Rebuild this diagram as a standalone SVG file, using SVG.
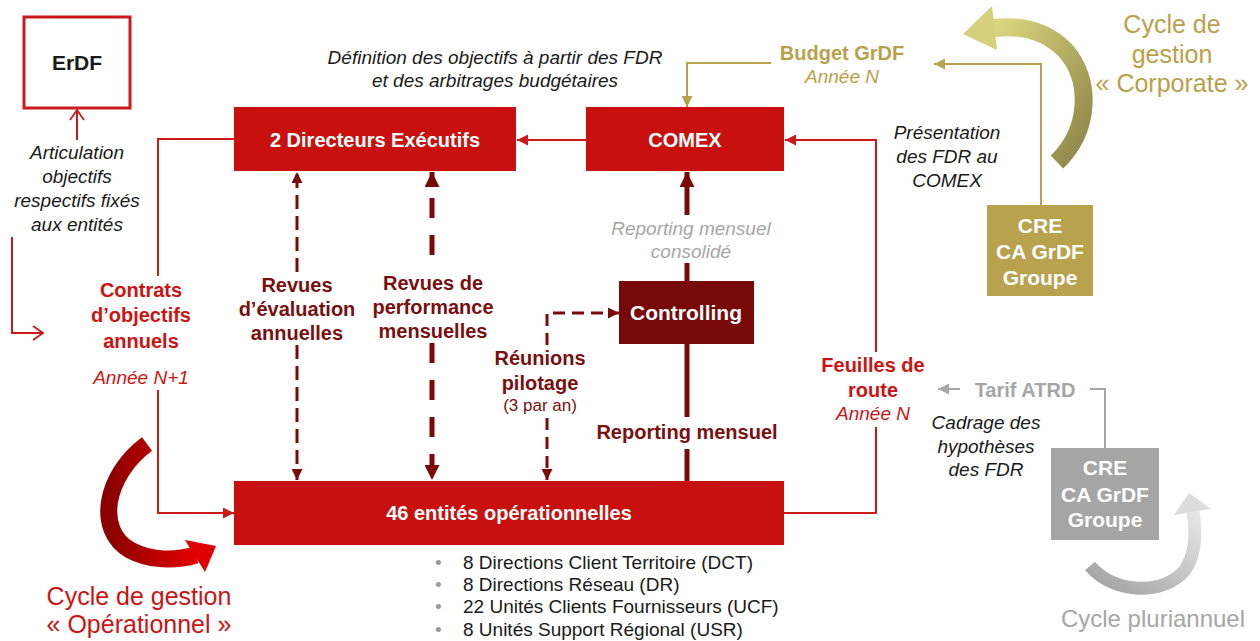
<svg xmlns="http://www.w3.org/2000/svg" width="1260" height="641" viewBox="0 0 1260 641">
<style>
text{font-family:"Liberation Sans",Arial,sans-serif;text-anchor:middle}
.b{font-weight:bold}
.i{font-style:italic}
.w{fill:#ffffff}
.k{fill:#1a1a1a}
.r{fill:#cc1414}
.dr{fill:#7a0f0f}
.au{fill:#b9a14c}
.gy{fill:#a6a6a6}
.f20{font-size:20px}
.f19{font-size:19px}
.f25{font-size:25px}
.ln{fill:none;stroke-width:2}
.red{stroke:#cc1a1a}
.gold{stroke:#b9a24e}
.grey{stroke:#a8a8a8}
.dk{stroke:#7a0a0a;fill:none}
</style>
<defs>
<marker id="mRed" viewBox="0 0 10 10" refX="10" refY="5" markerWidth="11" markerHeight="11" markerUnits="userSpaceOnUse" orient="auto"><path d="M0,0 L10,5 L0,10 z" fill="#cc1a1a"/></marker>
<marker id="mRedOpen" viewBox="0 0 12 16" refX="11" refY="8" markerWidth="12" markerHeight="16" markerUnits="userSpaceOnUse" orient="auto"><path d="M1,1 L11,8 L1,15" fill="none" stroke="#cc1a1a" stroke-width="1.8"/></marker>
<marker id="mGold" viewBox="0 0 10 10" refX="10" refY="5" markerWidth="11" markerHeight="11" markerUnits="userSpaceOnUse" orient="auto"><path d="M0,0 L10,5 L0,10 z" fill="#b9a24e"/></marker>
<marker id="mGrey" viewBox="0 0 10 10" refX="10" refY="5" markerWidth="11" markerHeight="11" markerUnits="userSpaceOnUse" orient="auto"><path d="M0,0 L10,5 L0,10 z" fill="#a8a8a8"/></marker>
<marker id="mDkS" viewBox="0 0 10 10" refX="10" refY="5" markerWidth="11" markerHeight="11" markerUnits="userSpaceOnUse" orient="auto"><path d="M0,0 L10,5 L0,10 z" fill="#7a0a0a"/></marker>
<marker id="mDkB" viewBox="0 0 10 10" refX="10" refY="5" markerWidth="15" markerHeight="15" markerUnits="userSpaceOnUse" orient="auto"><path d="M0,0 L10,5 L0,10 z" fill="#7a0a0a"/></marker>
<linearGradient id="gRed" x1="0" y1="0" x2="1" y2="0"><stop offset="0" stop-color="#8a0000"/><stop offset="1" stop-color="#e30000"/></linearGradient>
<linearGradient id="gGold" x1="0" y1="0" x2="1" y2="1"><stop offset="0" stop-color="#dcd680"/><stop offset="1" stop-color="#8c8447"/></linearGradient>
<linearGradient id="gGrey" x1="0" y1="1" x2="1" y2="0"><stop offset="0" stop-color="#a0a0a0"/><stop offset="1" stop-color="#e6e6e6"/></linearGradient>
</defs>

<!-- cycle arrows -->
<g id="cycle-operationnel">
<path d="M147,444 C105,475 95,530 130,550 C150,561 175,561 196,555" fill="none" stroke="url(#gRed)" stroke-width="17"/>
<polygon points="185,540 216,546 205,572" fill="#e00000"/>
<text class="r f25" x="139" y="605">Cycle de gestion</text>
<text class="r f25" x="139" y="633">« Opérationnel »</text>
</g>
<g id="cycle-corporate">
<path d="M1057,162 C1090,130 1092,80 1065,50 C1045,30 1020,25 994,28" fill="none" stroke="url(#gGold)" stroke-width="18"/>
<polygon points="963,34 992,6 997,50" fill="#d6d07c"/>
<text class="au f25" x="1172" y="33">Cycle de</text>
<text class="au f25" x="1172" y="63">gestion</text>
<text class="au f25" x="1172" y="92">« Corporate »</text>
</g>
<g id="cycle-pluriannuel">
<path d="M1090,566 C1115,595 1165,595 1185,570 C1197,552 1196,530 1193,512" fill="none" stroke="url(#gGrey)" stroke-width="13"/>
<polygon points="1189,493 1174,515 1211,509" fill="#dcdcdc"/>
<text class="gy" style="font-size:24px" x="1153" y="627">Cycle pluriannuel</text>
</g>

<!-- connectors -->
<g id="connectors">
<path class="ln red" d="M77,140 V110" marker-end="url(#mRedOpen)"/>
<path class="ln red" d="M12,237 V333 H43" marker-end="url(#mRedOpen)"/>
<path class="ln red" d="M235,139 H158 V276"/>
<path class="ln red" d="M158,390 V513 H234" marker-end="url(#mRed)"/>
<path class="ln red" d="M586,140 H517" marker-end="url(#mRed)"/>
<path class="ln red" d="M876,352 V140 H785" marker-end="url(#mRed)"/>
<path class="ln red" d="M876,427 V513 H784"/>
<path class="ln gold" d="M771,63 H687 V107" marker-end="url(#mGold)"/>
<path class="ln gold" d="M1041,205 V64 H934" marker-end="url(#mGold)"/>
<path class="ln grey" d="M960,389 H938" marker-end="url(#mGrey)"/>
<path class="ln grey" d="M1090,389 H1105 V448"/>
<path class="dk" stroke-width="3" stroke-dasharray="14 7" d="M297,272 V172" marker-end="url(#mDkS)"/>
<path class="dk" stroke-width="3" stroke-dasharray="14 7" d="M297,345 V480" marker-end="url(#mDkS)"/>
<path class="dk" stroke-width="5" stroke-dasharray="20 17" d="M432,255 V172" marker-end="url(#mDkB)"/>
<path class="dk" stroke-width="5" stroke-dasharray="20 17" d="M432,343 V480" marker-end="url(#mDkB)"/>
<path class="dk" stroke-width="3" stroke-dasharray="12 7" d="M547,345 V313 H619" marker-end="url(#mDkS)"/>
<path class="dk" stroke-width="3" stroke-dasharray="12 7" d="M547,418 V480" marker-end="url(#mDkS)"/>
<path class="dk" stroke-width="5" d="M687,215 V172" marker-end="url(#mDkB)"/>
<path class="dk" stroke-width="5" d="M687,263 V281"/>
<path class="dk" stroke-width="5" d="M687,344 V417"/>
<path class="dk" stroke-width="5" d="M687,449 V481"/>
</g>

<!-- nodes -->
<g id="erdf">
<rect x="24" y="17" width="106" height="91" fill="#ffffff" stroke="#cc1a1a" stroke-width="3"/>
<text class="b k" style="font-size:21px" x="77" y="70">ErDF</text>
</g>
<g id="directeurs">
<rect x="234" y="107" width="282" height="64" fill="#c8110e"/>
<text class="b w f20" x="375" y="147">2 Directeurs Exécutifs</text>
</g>
<g id="comex">
<rect x="586" y="107" width="198" height="64" fill="#c8110e"/>
<text class="b w f20" x="685" y="147">COMEX</text>
</g>
<g id="controlling">
<rect x="619" y="281" width="135" height="63" fill="#770909"/>
<text class="b w" style="font-size:21px" x="686" y="320">Controlling</text>
</g>
<g id="entites">
<rect x="234" y="481" width="550" height="64" fill="#c8110e"/>
<text class="b w f20" x="509" y="520">46 entités opérationnelles</text>
</g>
<g id="cre-corporate">
<rect x="987" y="205" width="106" height="91" fill="#b9a24e"/>
<text class="b w" style="font-size:21px" x="1040" y="233">CRE</text>
<text class="b w" style="font-size:21px" x="1040" y="259">CA GrDF</text>
<text class="b w" style="font-size:21px" x="1040" y="285">Groupe</text>
</g>
<g id="cre-pluriannuel">
<rect x="1051" y="448" width="108" height="92" fill="#a5a5a5"/>
<text class="b w" style="font-size:21px" x="1105" y="475">CRE</text>
<text class="b w" style="font-size:21px" x="1105" y="502">CA GrDF</text>
<text class="b w" style="font-size:21px" x="1105" y="527">Groupe</text>
</g>

<!-- labels -->
<g id="labels">
<text class="i k f19" x="77" y="159">Articulation</text>
<text class="i k f19" x="77" y="183">objectifs</text>
<text class="i k f19" x="77" y="207">respectifs fixés</text>
<text class="i k f19" x="77" y="231">aux entités</text>
<text class="i k f19" x="495" y="64">Définition des objectifs à partir des FDR</text>
<text class="i k f19" x="495" y="87">et des arbitrages budgétaires</text>
<text class="b au f20" x="842" y="60">Budget GrDF</text>
<text class="i au f19" x="842" y="83">Année N</text>
<text class="i k f19" x="947" y="139">Présentation</text>
<text class="i k f19" x="947" y="163">des FDR au</text>
<text class="i k f19" x="947" y="187">COMEX</text>
<text class="i gy f19" x="691" y="235">Reporting mensuel</text>
<text class="i gy f19" x="691" y="258">consolidé</text>
<text class="b dr f20" x="297" y="292">Revues</text>
<text class="b dr f20" x="297" y="316">d’évaluation</text>
<text class="b dr f20" x="297" y="340">annuelles</text>
<text class="b dr f20" x="433" y="290">Revues de</text>
<text class="b dr f20" x="433" y="314">performance</text>
<text class="b dr f20" x="433" y="338">mensuelles</text>
<text class="b dr f20" x="540" y="365">Réunions</text>
<text class="b dr f20" x="540" y="390">pilotage</text>
<text class="dr" style="font-size:17px" x="540" y="411">(3 par an)</text>
<text class="b dr f20" x="687" y="439">Reporting mensuel</text>
<text class="b r f20" x="141" y="297">Contrats</text>
<text class="b r f20" x="141" y="322">d’objectifs</text>
<text class="b r f20" x="141" y="348">annuels</text>
<text class="i r f19" x="141" y="384">Année N+1</text>
<text class="b r f20" x="873" y="372">Feuilles de</text>
<text class="b r f20" x="873" y="397">route</text>
<text class="i r f19" x="873" y="420">Année N</text>
<text class="b gy f20" x="1025" y="397">Tarif ATRD</text>
<text class="i k f19" x="986" y="429">Cadrage des</text>
<text class="i k f19" x="986" y="453">hypothèses</text>
<text class="i k f19" x="986" y="476">des FDR</text>
</g>
<g id="bullets" style="font-size:19px">
<text style="text-anchor:start;fill:#999999" x="435" y="569">•</text>
<text style="text-anchor:start;fill:#999999" x="435" y="591">•</text>
<text style="text-anchor:start;fill:#999999" x="435" y="613">•</text>
<text style="text-anchor:start;fill:#999999" x="435" y="636">•</text>
<text class="k" style="text-anchor:start" x="463" y="569">8 Directions Client Territoire (DCT)</text>
<text class="k" style="text-anchor:start" x="463" y="591">8 Directions Réseau (DR)</text>
<text class="k" style="text-anchor:start" x="463" y="613">22 Unités Clients Fournisseurs (UCF)</text>
<text class="k" style="text-anchor:start" x="463" y="636">8 Unités Support Régional (USR)</text>
</g>
</svg>
